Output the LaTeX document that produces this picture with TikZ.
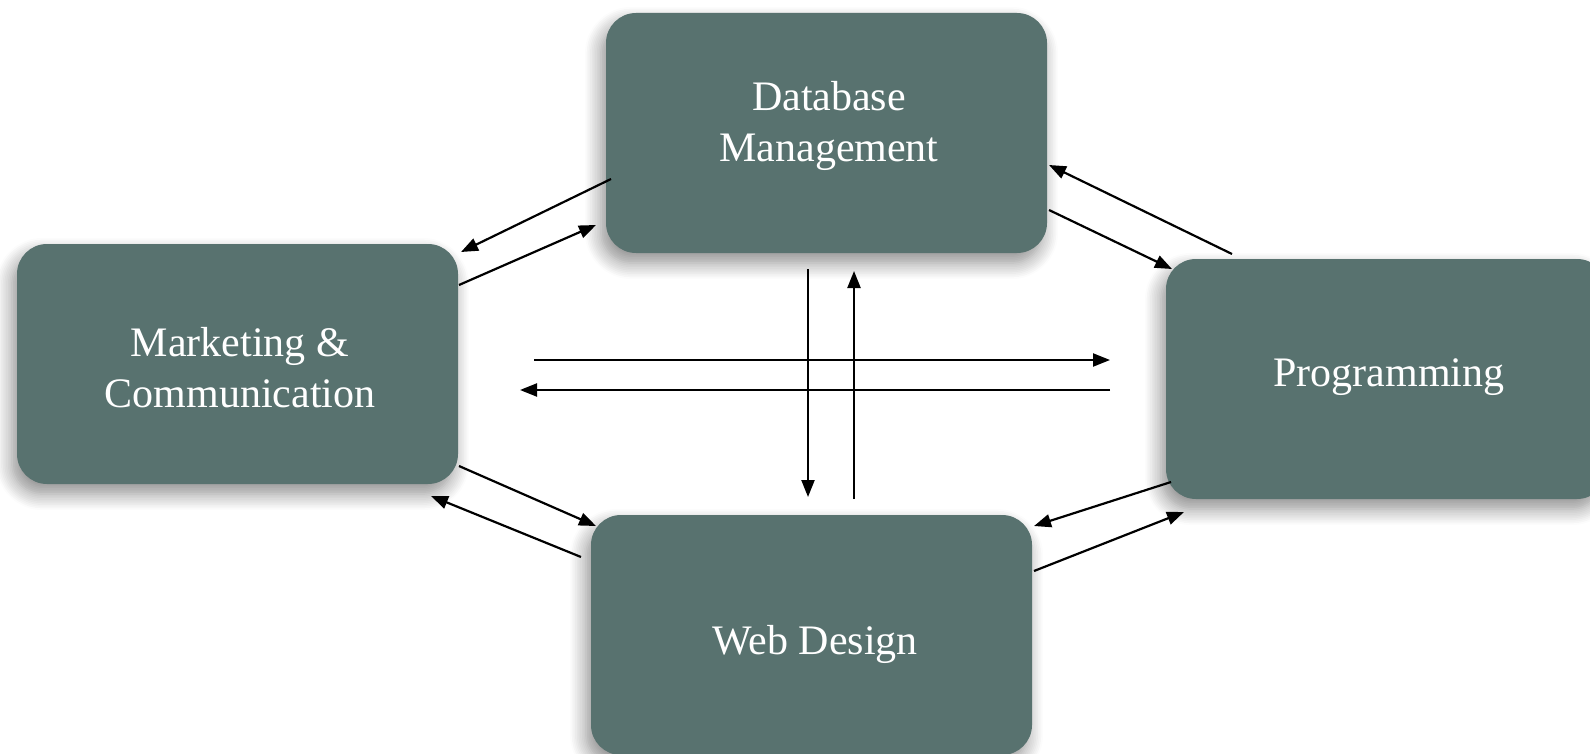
\documentclass[tikz,border=0pt]{standalone}
\usepackage{fontspec}
\setmainfont{Liberation Serif}
\usetikzlibrary{arrows.meta,shadows.blur}
\definecolor{boxfill}{RGB}{88,114,111}
\tikzset{
  pbox/.style={draw=none, fill=boxfill, rounded corners=30pt, minimum width=441pt, minimum height=240pt,
    blur shadow={shadow xshift=-5pt, shadow yshift=-10pt, shadow blur radius=16pt, shadow blur steps=10, shadow opacity=45}},
  lbl/.style={text=white, font=\fontsize{42}{51}\selectfont, align=center, inner sep=0pt},
  conn/.style={line width=2.2pt, -{Triangle[length=17pt,width=13pt]}}
}
\begin{document}
\begin{tikzpicture}[x=1pt,y=-1pt]
\useasboundingbox (0,0) rectangle (1590,754);
\node[pbox] (db) at (826.5,133) {};
\node[pbox] (mk) at (237.5,364) {};
\node[pbox] (pr) at (1386.5,379) {};
\node[pbox] (wd) at (811.5,635) {};
\node[lbl] (dbt) at (829,126) {Database\\Management};
\node[lbl] (mkt) at (240,368) {Marketing \&\\Communication};
\node[lbl] (prt) at (1389,377) {Programming};
\node[lbl] (wdt) at (815,644) {Web Design};
% arrow end points
\coordinate (a1s) at (611,179);  \coordinate (a1e) at (461,252);
\coordinate (a2s) at (459,285);  \coordinate (a2e) at (596,225);
\coordinate (a3s) at (1232,254); \coordinate (a3e) at (1049,165);
\coordinate (a4s) at (1049,210); \coordinate (a4e) at (1172,269);
\coordinate (a5s) at (534,360);  \coordinate (a5e) at (1110,360);
\coordinate (a6s) at (1110,390); \coordinate (a6e) at (520,390);
\coordinate (a7s) at (808,269);  \coordinate (a7e) at (808,497);
\coordinate (a8s) at (854,499);  \coordinate (a8e) at (854,271);
\coordinate (a9s) at (459,466);  \coordinate (a9e) at (596,526);
\coordinate (a10s) at (581,557); \coordinate (a10e) at (431,496);
\coordinate (a11s) at (1171,482); \coordinate (a11e) at (1034,526);
\coordinate (a12s) at (1034,571); \coordinate (a12e) at (1184,512);
\foreach \i in {1,...,12} {\draw[conn] (a\i s) -- (a\i e);}
\end{tikzpicture}
\end{document}
